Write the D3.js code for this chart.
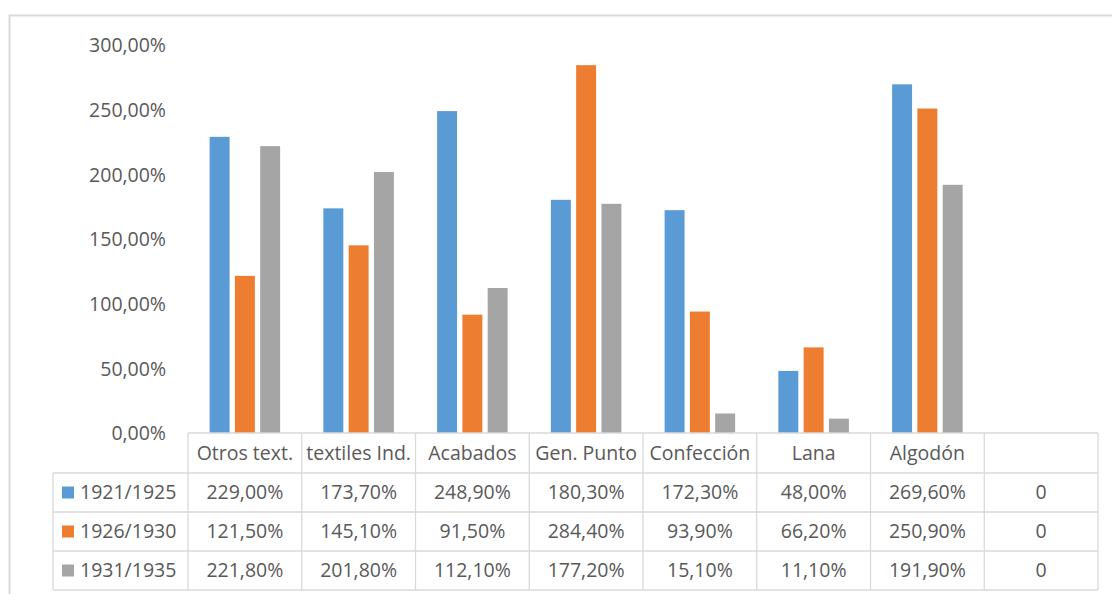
<!DOCTYPE html>
<html>
<head>
<meta charset="utf-8">
<script src="https://cdn.jsdelivr.net/npm/d3@7"></script>
<style>
  html, body { margin: 0; padding: 0; background: #ffffff; }
  svg { display: block; }
  text { font-family: "Open Sans", "Noto Sans", sans-serif; fill: #595959; }
</style>
</head>
<body>
<svg id="chart" width="1112" height="594"></svg>
<script>
const categories = ["Otros text.", "textiles Ind.", "Acabados", "Gen. Punto", "Confección", "Lana", "Algodón", ""];
const seriesNames = ["1921/1925", "1926/1930", "1931/1935"];
const s1921 = [229.0, 173.7, 248.9, 180.3, 172.3, 48.0, 269.6, 0];
const s1926 = [121.5, 145.1, 91.5, 284.4, 93.9, 66.2, 250.9, 0];
const s1931 = [221.8, 201.8, 112.1, 177.2, 15.1, 11.1, 191.9, 0];
const seriesValues = [s1921, s1926, s1931];
const colors = ["#5B9BD5", "#ED7D31", "#A5A5A5"];
const yTicks = [0, 50, 100, 150, 200, 250, 300];

const svg = d3.select("#chart");
const fontSize = 19.5;
const gridColor = "#d9d9d9";

// outer chart border
svg.append("rect")
  .attr("x", 9.5).attr("y", 15.5)
  .attr("width", 1300).attr("height", 700)
  .attr("fill", "none")
  .attr("stroke", gridColor)
  .attr("stroke-width", 2);

const plotLeft = 188, plotRight = 1098, plotTop = 45, plotBottom = 433;
const x = d3.scaleBand().domain(categories).range([plotLeft, plotRight]).padding(0);
const y = d3.scaleLinear().domain([0, 300]).range([plotBottom, plotTop]);
const inner = d3.scaleBand().domain(seriesNames)
  .range([-x.bandwidth() * 0.31, x.bandwidth() * 0.31])
  .paddingInner(0.21).paddingOuter(0);

const fmt = v => v === 0 ? "0" : d3.format(".2f")(v).replace(".", ",") + "%";

// y axis (labels only)
const yAxis = d3.axisLeft(y).tickValues(yTicks)
  .tickFormat(v => d3.format(".2f")(v).replace(".", ",") + "%")
  .tickSize(0).tickPadding(0);
const yg = svg.append("g").attr("transform", "translate(166,0)").call(yAxis);
yg.select(".domain").remove();
yg.selectAll("text")
  .attr("font-size", fontSize)
  .style("font-family", '"Open Sans", "Noto Sans", sans-serif')
  .attr("fill", "#595959")
  .attr("dy", "0.35em");

// bars
seriesNames.forEach((name, si) => {
  svg.append("g").selectAll("rect")
    .data(categories.map((c, i) => ({c, v: seriesValues[si][i]})))
    .join("rect")
    .attr("x", d => x(d.c) + x.bandwidth() / 2 + inner(name))
    .attr("width", inner.bandwidth())
    .attr("y", d => y(d.v))
    .attr("height", d => y(0) - y(d.v))
    .attr("fill", colors[si]);
});

// data table
const tableLeft = 53;
const rowH = 39;
const headerTop = plotBottom, headerBottom = plotBottom + 40;
const rowTops = seriesNames.map((s, i) => headerBottom + i * rowH);
const tableBottom = headerBottom + seriesNames.length * rowH;

const lines = svg.append("g").attr("stroke", gridColor).attr("stroke-width", 1.3);
// header top / axis line
lines.append("line").attr("x1", plotLeft).attr("x2", plotRight)
  .attr("y1", headerTop).attr("y2", headerTop);
// horizontal row lines
[headerBottom, ...rowTops.slice(1), tableBottom].forEach(yy => {
  lines.append("line").attr("x1", tableLeft).attr("x2", plotRight)
    .attr("y1", yy).attr("y2", yy);
});
// vertical lines
lines.append("line").attr("x1", tableLeft).attr("x2", tableLeft)
  .attr("y1", headerBottom).attr("y2", tableBottom);
categories.forEach(c => {
  lines.append("line").attr("x1", x(c)).attr("x2", x(c))
    .attr("y1", headerTop).attr("y2", tableBottom);
});
lines.append("line").attr("x1", plotRight).attr("x2", plotRight)
  .attr("y1", headerTop).attr("y2", tableBottom);

// header labels
svg.append("g").selectAll("text").data(categories).join("text")
  .attr("x", d => x(d) + x.bandwidth() / 2)
  .attr("y", (headerTop + headerBottom) / 2)
  .attr("dy", "0.35em")
  .attr("text-anchor", "middle")
  .attr("font-size", fontSize)
  .text(d => d);

// rows
seriesNames.forEach((name, si) => {
  const cy = rowTops[si] + rowH / 2;
  svg.append("rect")
    .attr("x", 62).attr("y", cy - 6)
    .attr("width", 12).attr("height", 12)
    .attr("fill", colors[si]);
  svg.append("text")
    .attr("x", 80).attr("y", cy).attr("dy", "0.35em")
    .attr("font-size", fontSize)
    .text(name);
  svg.append("g").selectAll("text")
    .data(categories.map((c, i) => ({c, v: seriesValues[si][i]})))
    .join("text")
    .attr("x", d => x(d.c) + x.bandwidth() / 2)
    .attr("y", cy).attr("dy", "0.35em")
    .attr("text-anchor", "middle")
    .attr("font-size", fontSize)
    .text(d => fmt(d.v));
});
</script>
</body>
</html>
